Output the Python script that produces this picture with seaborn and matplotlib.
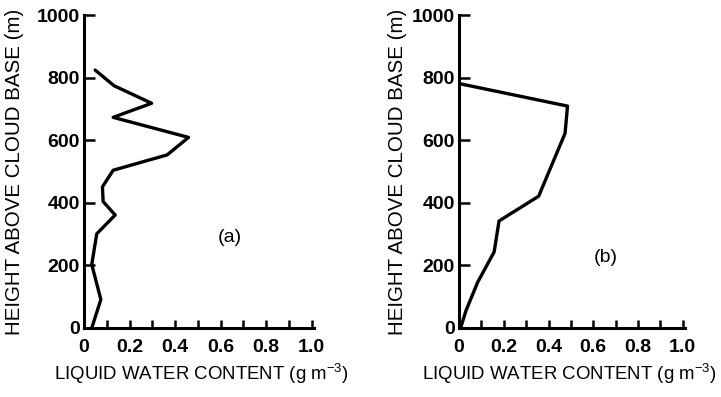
import matplotlib
matplotlib.use("Agg")
import matplotlib.pyplot as plt
import seaborn as sns
import pandas as pd

# Liquid water content profiles (g m^-3) versus height above cloud base (m)
lwc_a = [0.049, 0.132, 0.297, 0.128, 0.459, 0.365, 0.128, 0.081, 0.084, 0.137, 0.056, 0.034, 0.074, 0.034]
height_a = [824, 774, 718, 673, 609, 553, 504, 451, 404, 361, 301, 203, 91, 0]

lwc_b = [0.0, 0.485, 0.474, 0.356, 0.179, 0.157, 0.084, 0.032, 0.007]
height_b = [781, 709, 622, 421, 342, 243, 147, 57, 0]

x_ticks = [0, 0.2, 0.4, 0.6, 0.8, 1.0]
x_tick_labels = ["0", "0.2", "0.4", "0.6", "0.8", "1.0"]
y_ticks = [0, 200, 400, 600, 800, 1000]
panel_labels = ["(a)", "(b)"]
panel_label_pos = [(0.64, 288), (0.655, 224)]

sns.set_theme(style="ticks")
plt.rcParams["font.family"] = ["Liberation Sans", "DejaVu Sans"]

fig = plt.figure(figsize=(7.21, 3.97), dpi=100)
ax_a = fig.add_axes([84 / 721, 69 / 397, 230 / 721, 313 / 397])
ax_b = fig.add_axes([459 / 721, 69 / 397, 226 / 721, 313 / 397])

profiles = [
    pd.DataFrame({"lwc": lwc_a, "height": height_a}),
    pd.DataFrame({"lwc": lwc_b, "height": height_b}),
]
ylabel_x = [-0.30, -0.27]
xlabel_x = [0.51, 0.49]

for ax, df, label, pos, ylx, xlx in zip([ax_a, ax_b], profiles, panel_labels,
                                        panel_label_pos, ylabel_x, xlabel_x):
    sns.lineplot(data=df, x="lwc", y="height", sort=False, estimator=None,
                 color="black", linewidth=2.4, ax=ax)
    ax.set_xlim(0, 1.01)
    ax.set_ylim(0, 1000)
    sns.despine(ax=ax)
    for side in ("left", "bottom"):
        ax.spines[side].set_linewidth(2.2)
        ax.spines[side].set_color("black")
    ax.set_xticks(x_ticks)
    ax.set_xticklabels(x_tick_labels)
    ax.set_xticks([i / 10 for i in range(1, 11, 2)], minor=True)
    ax.set_yticks(y_ticks)
    ax.set_yticklabels([str(v) for v in y_ticks])
    ax.tick_params(axis="both", which="both", direction="in", color="black",
                   width=1.8, labelsize=14, labelcolor="black")
    ax.tick_params(axis="x", which="both", length=6, pad=8)
    ax.tick_params(axis="y", length=8, pad=3)
    for t in ax.get_xticklabels() + ax.get_yticklabels():
        t.set_fontweight("bold")
    ax.set_xlabel("LIQUID WATER CONTENT (g m$^{\\mathregular{-3}}$)", fontsize=13.4,
                  color="black", va="center")
    ax.xaxis.set_label_coords(xlx, -0.147)
    ax.set_ylabel("HEIGHT ABOVE CLOUD BASE (m)", fontsize=14.8, color="black",
                  va="center")
    ax.yaxis.set_label_coords(ylx, 0.5)
    ax.text(pos[0], pos[1], label, fontsize=14, color="black",
            ha="center", va="center")
    ax.set_facecolor("white")

fig.savefig("out.png", dpi=100, facecolor="white")
